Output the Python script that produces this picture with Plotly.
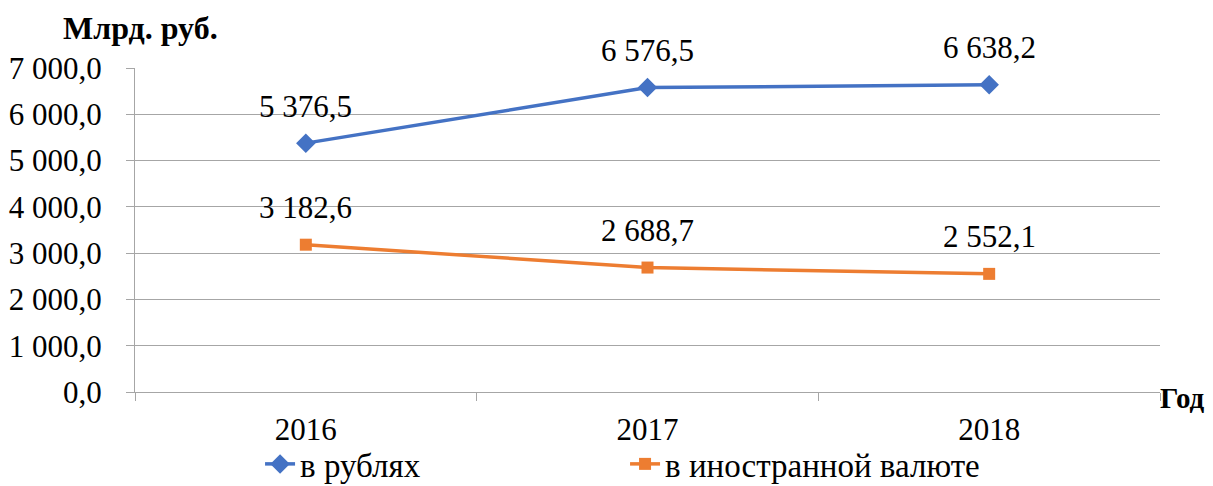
import plotly.graph_objects as go

years = ["2016", "2017", "2018"]
rub = [5376.5, 6576.5, 6638.2]
foreign = [3182.6, 2688.7, 2552.1]
series_names = ["в рублях", "в иностранной валюте"]
y_title = "Млрд. руб."
x_title = "Год"

FONT = "Liberation Serif, Times New Roman, serif"
GRID = "#a6a6a6"


def fmt(v):
    s = f"{v:,.1f}"
    return s.replace(",", " ").replace(".", ",")


fig = go.Figure()
fig.add_trace(go.Scatter(
    x=years, y=rub, name=series_names[0], mode="lines+markers",
    line=dict(color="#4472C4", width=3.5),
    marker=dict(symbol="diamond", size=15, color="#4472C4"),
))
fig.add_trace(go.Scatter(
    x=years, y=foreign, name=series_names[1], mode="lines+markers",
    line=dict(color="#ED7D31", width=3.5),
    marker=dict(symbol="square", size=12, color="#ED7D31"),
))

for series in (rub, foreign):
    for i, yv in enumerate(series):
        fig.add_annotation(x=i, y=yv, xref="x", yref="y", text=fmt(yv),
                           showarrow=False, yanchor="middle", yshift=37,
                           font=dict(family=FONT, size=31, color="black"))

fig.add_annotation(xref="paper", yref="paper", x=0.005, y=1.123, xanchor="center",
                   yanchor="middle", text=f"<b>{y_title}</b>", showarrow=False,
                   font=dict(family=FONT, size=32, color="black"))
fig.add_annotation(xref="paper", yref="paper", x=0.998, y=-0.02, xanchor="left",
                   yanchor="middle", text=f"<b>{x_title}</b>", showarrow=False,
                   font=dict(family=FONT, size=29, color="black"))

fig.update_layout(
    width=1205, height=478,
    margin=dict(l=127, r=53, t=60, b=94, autoexpand=False),
    paper_bgcolor="white", plot_bgcolor="white",
    separators=", ",
    font=dict(family=FONT, size=30, color="black"),
    showlegend=True,
    legend=dict(orientation="h", x=0.122, y=-0.222, xanchor="left", yanchor="middle",
                entrywidth=320, entrywidthmode="pixels", bgcolor="rgba(0,0,0,0)",
                font=dict(family=FONT, size=33, color="black")),
    xaxis=dict(type="category", range=[-0.5, 2.5], tickson="boundaries",
               ticks="outside", ticklen=8, tickcolor=GRID,
               showline=True, linecolor=GRID, linewidth=1,
               showgrid=False, ticklabelstandoff=10,
               tickfont=dict(family=FONT, size=31, color="black")),
    yaxis=dict(range=[0, 7000], dtick=1000, tickformat=",.1f",
               ticks="outside", ticklen=8, tickcolor=GRID,
               showline=True, linecolor=GRID, linewidth=1,
               showgrid=True, gridcolor=GRID, gridwidth=1,
               zeroline=False, ticklabelstandoff=18,
               tickfont=dict(family=FONT, size=31, color="black")),
)

fig.write_html("out.html")
